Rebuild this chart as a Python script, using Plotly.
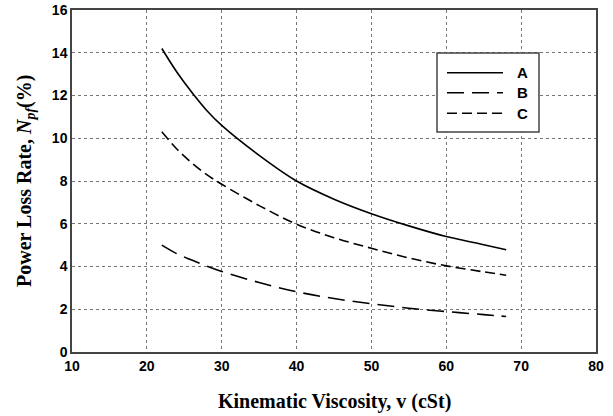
import plotly.graph_objects as go

# Data
viscosity = [22, 24, 26, 28, 30, 35, 40, 45, 50, 55, 60, 65, 68]
loss_A = [14.2, 13.1, 12.15, 11.3, 10.6, 9.2, 8.0, 7.15, 6.47, 5.9, 5.4, 5.02, 4.78]
loss_B = [5.0, 4.6, 4.3, 4.02, 3.77, 3.25, 2.82, 2.5, 2.26, 2.05, 1.89, 1.75, 1.66]
loss_C = [10.3, 9.5, 8.85, 8.3, 7.85, 6.85, 5.98, 5.35, 4.85, 4.4, 4.03, 3.75, 3.59]
series_names = ["A", "B", "C"]
x_ticks = [10, 20, 30, 40, 50, 60, 70, 80]
y_ticks = [0, 2, 4, 6, 8, 10, 12, 14, 16]

dashes = ["solid", "17px,8px", "10px,5px"]
series = [loss_A, loss_B, loss_C]

fig = go.Figure()
for name, ys, d in zip(series_names, series, dashes):
    fig.add_trace(go.Scatter(x=viscosity, y=ys, mode="lines", name=name,
                             line=dict(color="black", width=1.6, dash=d, shape="spline"),
                             showlegend=False))

axis_common = dict(showline=True, linecolor="#444", linewidth=1.5, mirror=True,
                   showgrid=True, gridcolor="#777", griddash="dot", gridwidth=1,
                   zeroline=False, ticks="", automargin=False,
                   tickfont=dict(family="Liberation Sans, Arial", size=14, color="black", weight="bold"))

fig.update_xaxes(range=[10, 80], tickvals=x_ticks, **axis_common)
fig.update_yaxes(range=[0, 16], tickvals=y_ticks, **axis_common)

# Manual legend box
fig.add_shape(type="rect", xref="paper", yref="paper", x0=0.6966, x1=0.8912, y0=0.6433, y1=0.8743,
              line=dict(color="#444", width=1.5), fillcolor="white", layer="above")
legend_rows = [0.8167, 0.7582, 0.6979]
for name, d, yr in zip(series_names, dashes, legend_rows):
    fig.add_shape(type="line", xref="paper", yref="paper", x0=0.7156, x1=0.8225, y0=yr, y1=yr,
                  line=dict(color="black", width=1.6, dash=d), layer="above")
    fig.add_annotation(x=0.8588, y=yr, xref="paper", yref="paper", text=name, showarrow=False,
                       xanchor="center", yanchor="middle",
                       font=dict(family="Liberation Sans, Arial", size=15, color="black", weight="bold"))

title_font = dict(family="Liberation Serif, Times New Roman", size=20, color="black", weight="bold")
fig.add_annotation(x=0.5, y=-0.146, xref="paper", yref="paper", showarrow=False,
                   xanchor="center", yanchor="middle",
                   text="Kinematic Viscosity, v (cSt)", font=title_font)
fig.add_annotation(x=-0.0897, y=0.5, xref="paper", yref="paper", showarrow=False, textangle=-90,
                   xanchor="center", yanchor="middle",
                   text="Power Loss Rate, <i>N</i><sub><i>pf</i></sub>(%)", font=title_font)

fig.update_layout(width=613, height=416, margin=dict(l=72, r=17, t=10, b=64),
                  plot_bgcolor="white", paper_bgcolor="white", showlegend=False)

fig.write_html("out.html", config={"displayModeBar": False},
               post_script="document.body.style.margin='0';document.body.style.overflow='hidden';")
